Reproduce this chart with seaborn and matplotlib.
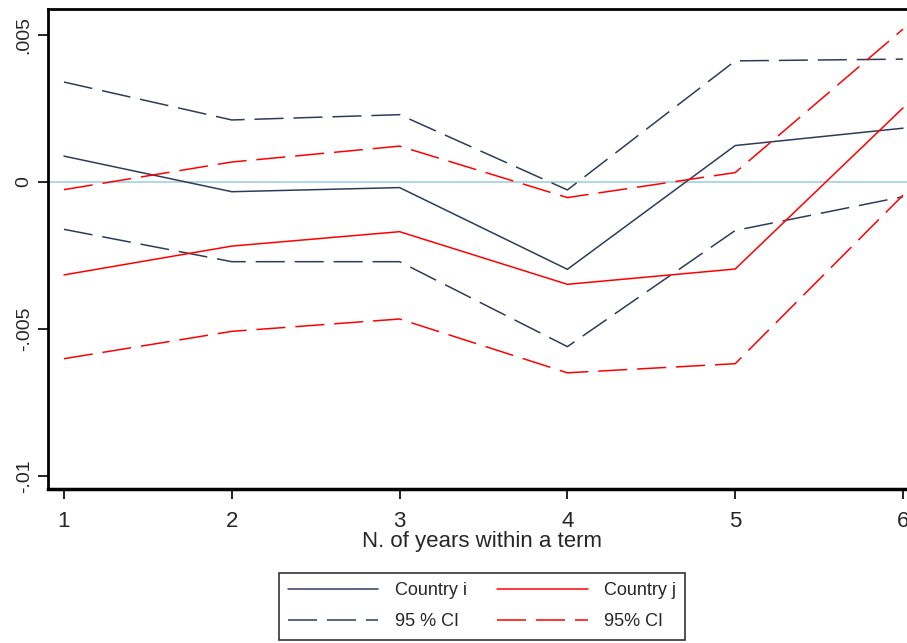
import numpy as np
import pandas as pd
import matplotlib
matplotlib.use("Agg")
import matplotlib.pyplot as plt
import seaborn as sns

# ----------------------------------------------------
# dados
# ----------------------------------------------------
anos = [1, 2, 3, 4, 5, 6]

country_i = [0.00088, -0.00033, -0.00019, -0.00297, 0.00124, 0.00183]
ci_i_upper = [0.00340, 0.00211, 0.00229, -0.00027, 0.00412, 0.00418]
ci_i_lower = [-0.00161, -0.00271, -0.00271, -0.00560, -0.00165, -0.00050]

country_j = [-0.00316, -0.00218, -0.00169, -0.00348, -0.00296, 0.00252]
ci_j_upper = [-0.00026, 0.00068, 0.00122, -0.00053, 0.00032, 0.00520]
ci_j_lower = [-0.00601, -0.00508, -0.00466, -0.00649, -0.00618, -0.00045]

yticks = [-0.01, -0.005, 0, 0.005]
ytick_labels = ["-.01", "-.005", "0", ".005"]

navy = "#2e3b5c"
red = "#ff0000"
dash = (0, (19, 6.5))

sns.set_style("white")
plt.rcParams["font.family"] = ["Liberation Sans", "DejaVu Sans"]

fig = plt.figure(figsize=(9.07, 6.43), dpi=100)
ax = fig.add_axes([48 / 907, 1 - 489 / 643, 867 / 907, 480 / 643])

ax.axhline(0, color="#add8e6", lw=1.4, zorder=1)

series = [
    (country_i, navy, "-", "Country i"),
    (ci_i_upper, navy, dash, "95 % CI"),
    (ci_i_lower, navy, dash, None),
    (country_j, red, "-", "Country j"),
    (ci_j_upper, red, dash, "95% CI"),
    (ci_j_lower, red, dash, None),
]
for vals, cor, estilo, nome in series:
    sns.lineplot(x=anos, y=vals, ax=ax, color=cor, linestyle=estilo,
                 lw=1.1, label=nome, legend=False)

ax.set_xlim(1 - 16 / 168, 6 + 12 / 168)
ax.set_ylim(-(489 - 182) / 147 * 0.005, (182 - 9) / 147 * 0.005)

ax.set_xticks(anos)
ax.set_xticklabels([str(a) for a in anos], fontsize=16)
ax.set_yticks(yticks)
ax.set_yticklabels(ytick_labels, fontsize=14, rotation=90, va="center")
ax.tick_params(axis="both", direction="out", length=7, width=1.2, color="black",
               bottom=True, left=True)
ax.tick_params(axis="x", pad=9)
ax.tick_params(axis="y", pad=4)
ax.set_xlabel("N. of years within a term", fontsize=16, labelpad=-1)
ax.set_ylabel("")

for lado in ["left", "bottom", "top", "right"]:
    ax.spines[lado].set_color("black")
ax.spines["left"].set_linewidth(2)
ax.spines["bottom"].set_linewidth(2.5)
ax.spines["top"].set_linewidth(2)

handles, labels = ax.get_legend_handles_labels()
ordem = ["Country i", "95 % CI", "Country j", "95% CI"]
hmap = dict(zip(labels, handles))
leg = fig.legend([hmap[l] for l in ordem], ordem, ncol=2,
                 loc="upper center", bbox_to_anchor=(482 / 907, 1 - 564 / 643),
                 fontsize=13, frameon=True, fancybox=False, edgecolor="black",
                 handlelength=5.0, handletextpad=0.9, columnspacing=1.7,
                 labelspacing=0.8, borderpad=0.5)
leg.get_frame().set_linewidth(1.2)

fig.savefig("out.png", dpi=100)
